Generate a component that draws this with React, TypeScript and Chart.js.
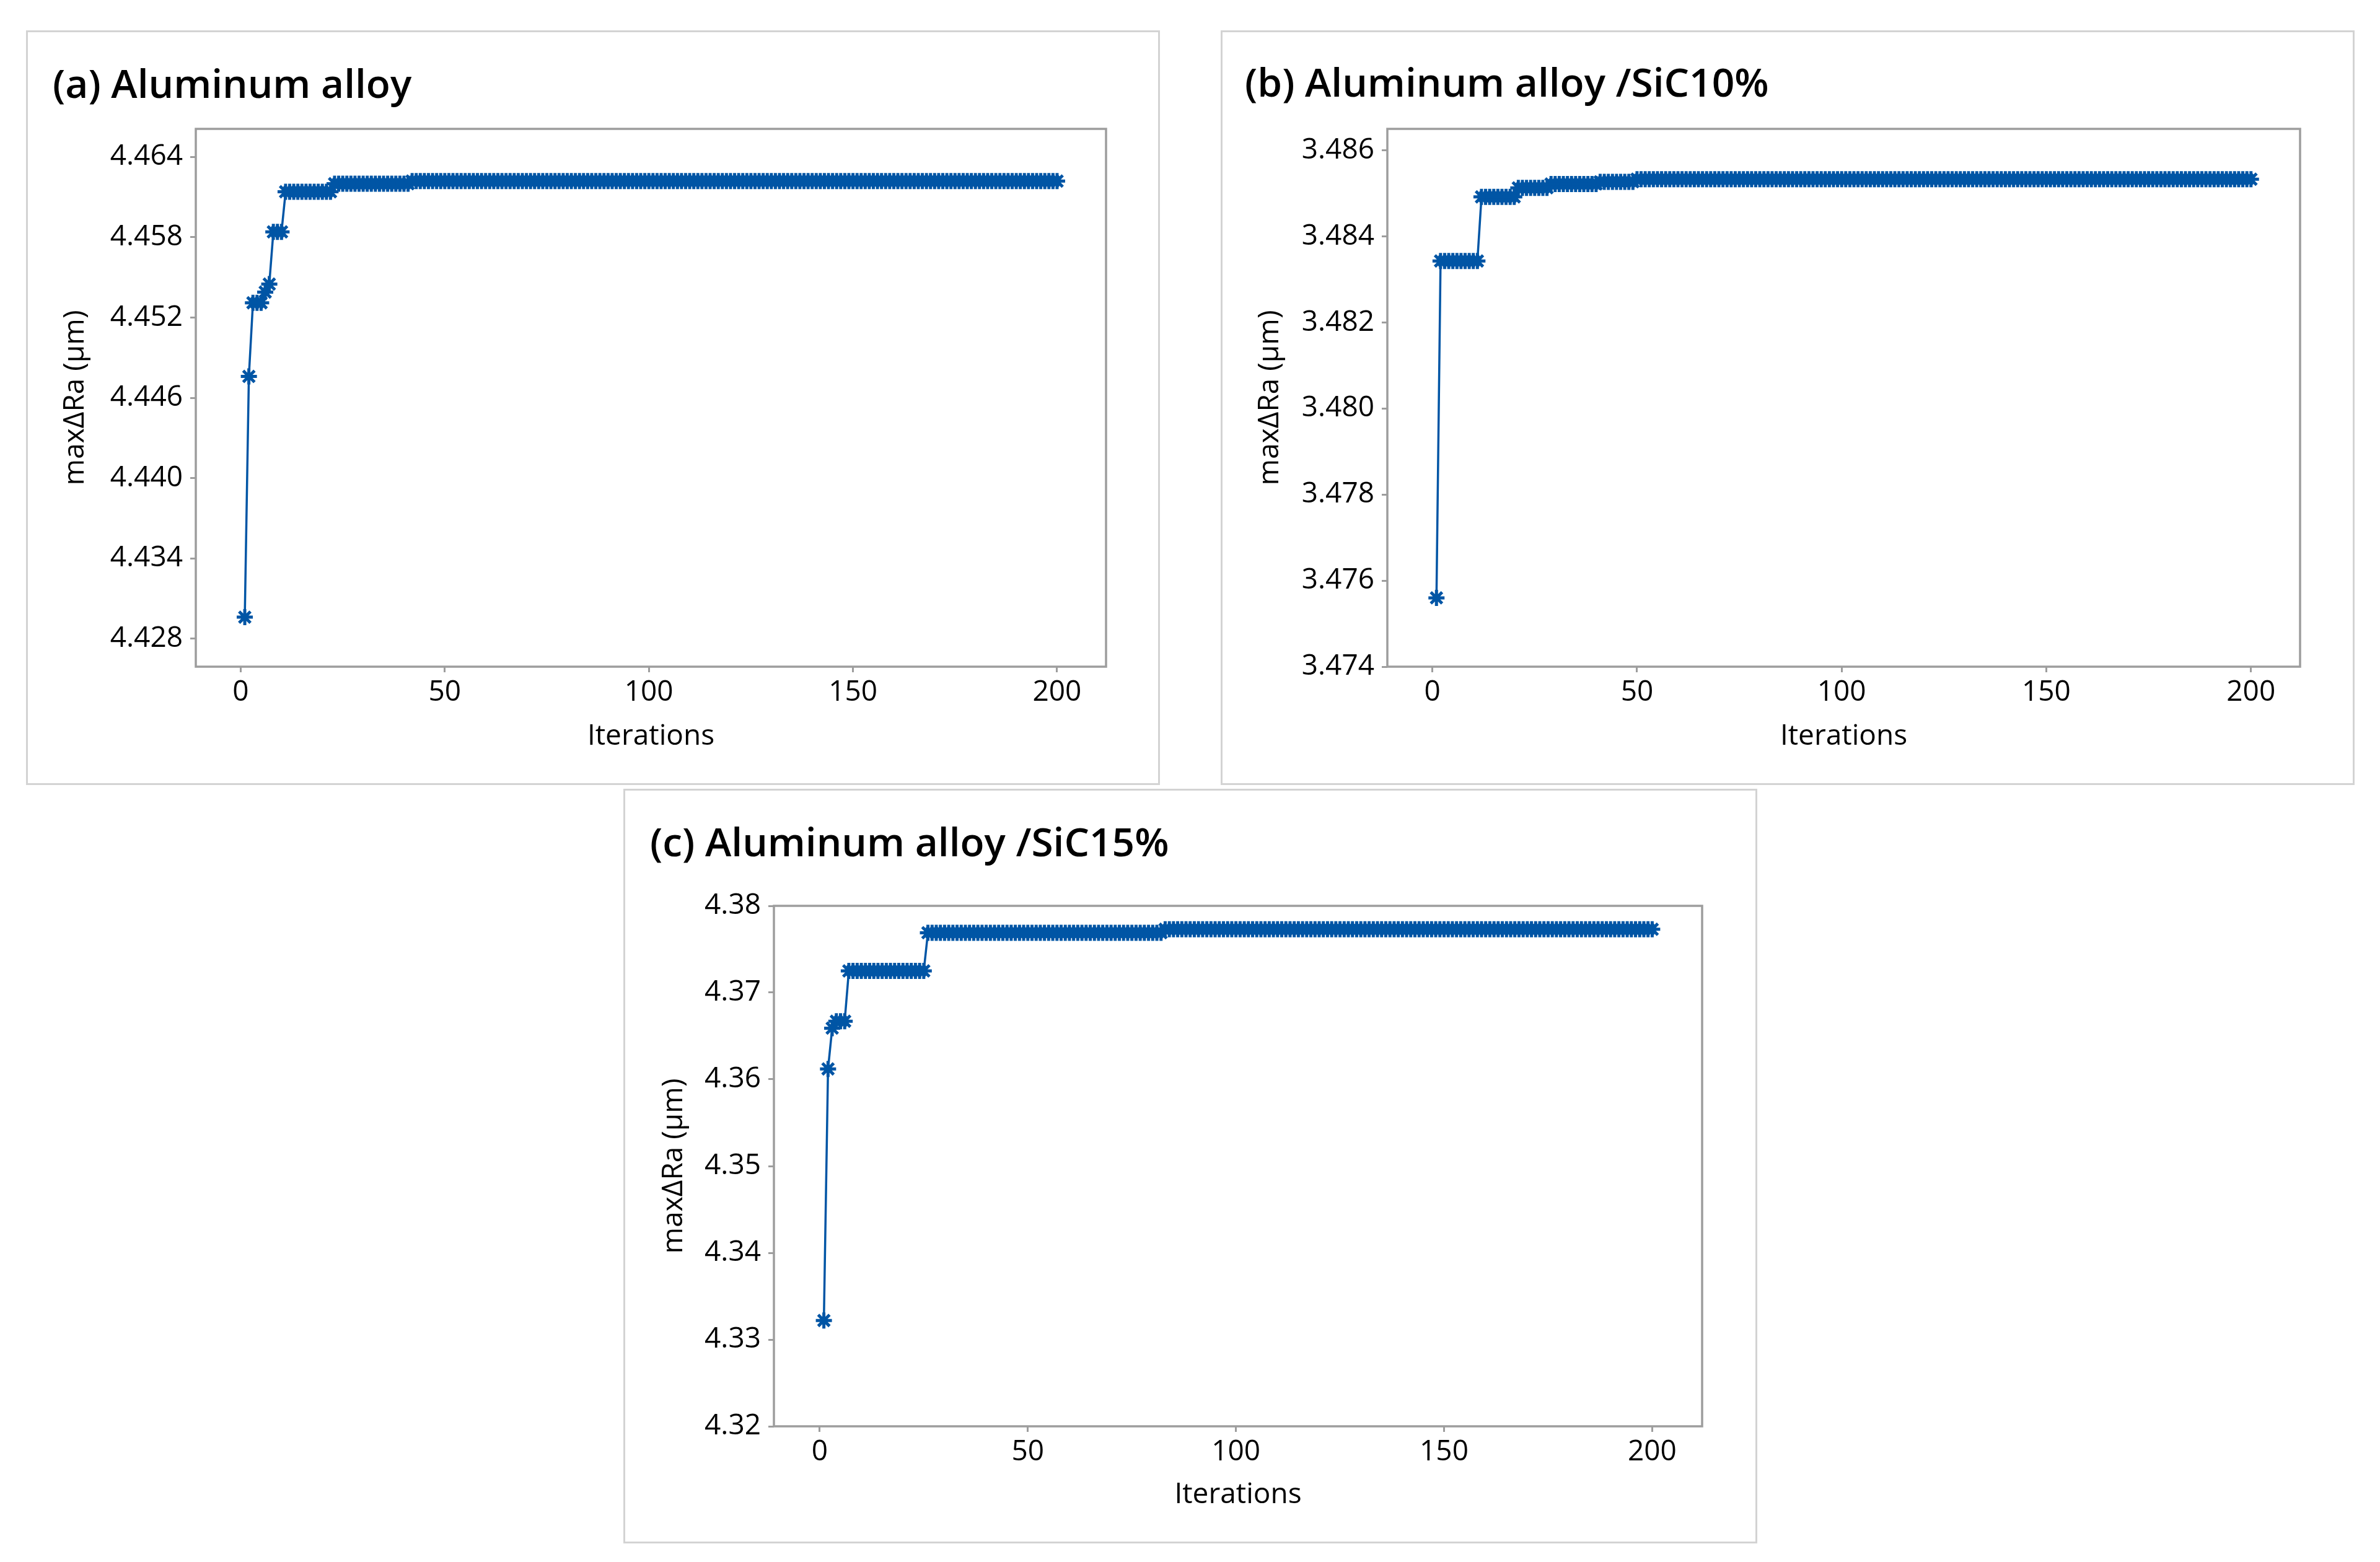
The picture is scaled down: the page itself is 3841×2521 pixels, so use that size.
import React, { useEffect, useRef } from "react";
import { Chart, registerables } from "chart.js";

Chart.register(...registerables);

// ---------------- DATA ----------------
const iterations = [
  1, 2, 3, 4, 5, 6, 7, 8, 9, 10,
  11, 12, 13, 14, 15, 16, 17, 18, 19, 20,
  21, 22, 23, 24, 25, 26, 27, 28, 29, 30,
  31, 32, 33, 34, 35, 36, 37, 38, 39, 40,
  41, 42, 43, 44, 45, 46, 47, 48, 49, 50,
  51, 52, 53, 54, 55, 56, 57, 58, 59, 60,
  61, 62, 63, 64, 65, 66, 67, 68, 69, 70,
  71, 72, 73, 74, 75, 76, 77, 78, 79, 80,
  81, 82, 83, 84, 85, 86, 87, 88, 89, 90,
  91, 92, 93, 94, 95, 96, 97, 98, 99, 100,
  101, 102, 103, 104, 105, 106, 107, 108, 109, 110,
  111, 112, 113, 114, 115, 116, 117, 118, 119, 120,
  121, 122, 123, 124, 125, 126, 127, 128, 129, 130,
  131, 132, 133, 134, 135, 136, 137, 138, 139, 140,
  141, 142, 143, 144, 145, 146, 147, 148, 149, 150,
  151, 152, 153, 154, 155, 156, 157, 158, 159, 160,
  161, 162, 163, 164, 165, 166, 167, 168, 169, 170,
  171, 172, 173, 174, 175, 176, 177, 178, 179, 180,
  181, 182, 183, 184, 185, 186, 187, 188, 189, 190,
  191, 192, 193, 194, 195, 196, 197, 198, 199, 200,
];

const seriesA = [
  4.4296, 4.4476, 4.4531, 4.4531, 4.4531, 4.4539, 4.4545, 4.4584, 4.4584, 4.4584,
  4.4614, 4.4614, 4.4614, 4.4614, 4.4614, 4.4614, 4.4614, 4.4614, 4.4614, 4.4614,
  4.4614, 4.4614, 4.4620, 4.4620, 4.4620, 4.4620, 4.4620, 4.4620, 4.4620, 4.4620,
  4.4620, 4.4620, 4.4620, 4.4620, 4.4620, 4.4620, 4.4620, 4.4620, 4.4620, 4.4620,
  4.4620, 4.4622, 4.4622, 4.4622, 4.4622, 4.4622, 4.4622, 4.4622, 4.4622, 4.4622,
  4.4622, 4.4622, 4.4622, 4.4622, 4.4622, 4.4622, 4.4622, 4.4622, 4.4622, 4.4622,
  4.4622, 4.4622, 4.4622, 4.4622, 4.4622, 4.4622, 4.4622, 4.4622, 4.4622, 4.4622,
  4.4622, 4.4622, 4.4622, 4.4622, 4.4622, 4.4622, 4.4622, 4.4622, 4.4622, 4.4622,
  4.4622, 4.4622, 4.4622, 4.4622, 4.4622, 4.4622, 4.4622, 4.4622, 4.4622, 4.4622,
  4.4622, 4.4622, 4.4622, 4.4622, 4.4622, 4.4622, 4.4622, 4.4622, 4.4622, 4.4622,
  4.4622, 4.4622, 4.4622, 4.4622, 4.4622, 4.4622, 4.4622, 4.4622, 4.4622, 4.4622,
  4.4622, 4.4622, 4.4622, 4.4622, 4.4622, 4.4622, 4.4622, 4.4622, 4.4622, 4.4622,
  4.4622, 4.4622, 4.4622, 4.4622, 4.4622, 4.4622, 4.4622, 4.4622, 4.4622, 4.4622,
  4.4622, 4.4622, 4.4622, 4.4622, 4.4622, 4.4622, 4.4622, 4.4622, 4.4622, 4.4622,
  4.4622, 4.4622, 4.4622, 4.4622, 4.4622, 4.4622, 4.4622, 4.4622, 4.4622, 4.4622,
  4.4622, 4.4622, 4.4622, 4.4622, 4.4622, 4.4622, 4.4622, 4.4622, 4.4622, 4.4622,
  4.4622, 4.4622, 4.4622, 4.4622, 4.4622, 4.4622, 4.4622, 4.4622, 4.4622, 4.4622,
  4.4622, 4.4622, 4.4622, 4.4622, 4.4622, 4.4622, 4.4622, 4.4622, 4.4622, 4.4622,
  4.4622, 4.4622, 4.4622, 4.4622, 4.4622, 4.4622, 4.4622, 4.4622, 4.4622, 4.4622,
  4.4622, 4.4622, 4.4622, 4.4622, 4.4622, 4.4622, 4.4622, 4.4622, 4.4622, 4.4622,
];

const seriesB = [
  3.4756, 3.48343, 3.48343, 3.48343, 3.48343, 3.48343, 3.48343, 3.48343, 3.48343, 3.48343,
  3.48343, 3.48492, 3.48492, 3.48492, 3.48492, 3.48492, 3.48492, 3.48492, 3.48492, 3.48492,
  3.48513, 3.48513, 3.48513, 3.48513, 3.48513, 3.48513, 3.48513, 3.48513, 3.48522, 3.48522,
  3.48522, 3.48522, 3.48522, 3.48522, 3.48522, 3.48522, 3.48522, 3.48522, 3.48522, 3.48522,
  3.48527, 3.48527, 3.48527, 3.48527, 3.48527, 3.48527, 3.48527, 3.48527, 3.48527, 3.48533,
  3.48533, 3.48533, 3.48533, 3.48533, 3.48533, 3.48533, 3.48533, 3.48533, 3.48533, 3.48533,
  3.48533, 3.48533, 3.48533, 3.48533, 3.48533, 3.48533, 3.48533, 3.48533, 3.48533, 3.48533,
  3.48533, 3.48533, 3.48533, 3.48533, 3.48533, 3.48533, 3.48533, 3.48533, 3.48533, 3.48533,
  3.48533, 3.48533, 3.48533, 3.48533, 3.48533, 3.48533, 3.48533, 3.48533, 3.48533, 3.48533,
  3.48533, 3.48533, 3.48533, 3.48533, 3.48533, 3.48533, 3.48533, 3.48533, 3.48533, 3.48533,
  3.48533, 3.48533, 3.48533, 3.48533, 3.48533, 3.48533, 3.48533, 3.48533, 3.48533, 3.48533,
  3.48533, 3.48533, 3.48533, 3.48533, 3.48533, 3.48533, 3.48533, 3.48533, 3.48533, 3.48533,
  3.48533, 3.48533, 3.48533, 3.48533, 3.48533, 3.48533, 3.48533, 3.48533, 3.48533, 3.48533,
  3.48533, 3.48533, 3.48533, 3.48533, 3.48533, 3.48533, 3.48533, 3.48533, 3.48533, 3.48533,
  3.48533, 3.48533, 3.48533, 3.48533, 3.48533, 3.48533, 3.48533, 3.48533, 3.48533, 3.48533,
  3.48533, 3.48533, 3.48533, 3.48533, 3.48533, 3.48533, 3.48533, 3.48533, 3.48533, 3.48533,
  3.48533, 3.48533, 3.48533, 3.48533, 3.48533, 3.48533, 3.48533, 3.48533, 3.48533, 3.48533,
  3.48533, 3.48533, 3.48533, 3.48533, 3.48533, 3.48533, 3.48533, 3.48533, 3.48533, 3.48533,
  3.48533, 3.48533, 3.48533, 3.48533, 3.48533, 3.48533, 3.48533, 3.48533, 3.48533, 3.48533,
  3.48533, 3.48533, 3.48533, 3.48533, 3.48533, 3.48533, 3.48533, 3.48533, 3.48533, 3.48533,
];

const seriesC = [
  4.3322, 4.3612, 4.3659, 4.3667, 4.3667, 4.3667, 4.3725, 4.3725, 4.3725, 4.3725,
  4.3725, 4.3725, 4.3725, 4.3725, 4.3725, 4.3725, 4.3725, 4.3725, 4.3725, 4.3725,
  4.3725, 4.3725, 4.3725, 4.3725, 4.3725, 4.3769, 4.3769, 4.3769, 4.3769, 4.3769,
  4.3769, 4.3769, 4.3769, 4.3769, 4.3769, 4.3769, 4.3769, 4.3769, 4.3769, 4.3769,
  4.3769, 4.3769, 4.3769, 4.3769, 4.3769, 4.3769, 4.3769, 4.3769, 4.3769, 4.3769,
  4.3769, 4.3769, 4.3769, 4.3769, 4.3769, 4.3769, 4.3769, 4.3769, 4.3769, 4.3769,
  4.3769, 4.3769, 4.3769, 4.3769, 4.3769, 4.3769, 4.3769, 4.3769, 4.3769, 4.3769,
  4.3769, 4.3769, 4.3769, 4.3769, 4.3769, 4.3769, 4.3769, 4.3769, 4.3769, 4.3769,
  4.3769, 4.3769, 4.3773, 4.3773, 4.3773, 4.3773, 4.3773, 4.3773, 4.3773, 4.3773,
  4.3773, 4.3773, 4.3773, 4.3773, 4.3773, 4.3773, 4.3773, 4.3773, 4.3773, 4.3773,
  4.3773, 4.3773, 4.3773, 4.3773, 4.3773, 4.3773, 4.3773, 4.3773, 4.3773, 4.3773,
  4.3773, 4.3773, 4.3773, 4.3773, 4.3773, 4.3773, 4.3773, 4.3773, 4.3773, 4.3773,
  4.3773, 4.3773, 4.3773, 4.3773, 4.3773, 4.3773, 4.3773, 4.3773, 4.3773, 4.3773,
  4.3773, 4.3773, 4.3773, 4.3773, 4.3773, 4.3773, 4.3773, 4.3773, 4.3773, 4.3773,
  4.3773, 4.3773, 4.3773, 4.3773, 4.3773, 4.3773, 4.3773, 4.3773, 4.3773, 4.3773,
  4.3773, 4.3773, 4.3773, 4.3773, 4.3773, 4.3773, 4.3773, 4.3773, 4.3773, 4.3773,
  4.3773, 4.3773, 4.3773, 4.3773, 4.3773, 4.3773, 4.3773, 4.3773, 4.3773, 4.3773,
  4.3773, 4.3773, 4.3773, 4.3773, 4.3773, 4.3773, 4.3773, 4.3773, 4.3773, 4.3773,
  4.3773, 4.3773, 4.3773, 4.3773, 4.3773, 4.3773, 4.3773, 4.3773, 4.3773, 4.3773,
  4.3773, 4.3773, 4.3773, 4.3773, 4.3773, 4.3773, 4.3773, 4.3773, 4.3773, 4.3773,
];

const xTicks = [0, 50, 100, 150, 200];
const xTickLabels = ["0", "50", "100", "150", "200"];

const yTicksA = [4.428, 4.434, 4.44, 4.446, 4.452, 4.458, 4.464];
const yTickLabelsA = ["4.428", "4.434", "4.440", "4.446", "4.452", "4.458", "4.464"];
const yTicksB = [3.474, 3.476, 3.478, 3.48, 3.482, 3.484, 3.486];
const yTickLabelsB = ["3.474", "3.476", "3.478", "3.480", "3.482", "3.484", "3.486"];
const yTicksC = [4.32, 4.33, 4.34, 4.35, 4.36, 4.37, 4.38];
const yTickLabelsC = ["4.32", "4.33", "4.34", "4.35", "4.36", "4.37", "4.38"];

const titles = [
  "(a) Aluminum alloy",
  "(b) Aluminum alloy /SiC10%",
  "(c) Aluminum alloy /SiC15%",
];
const xAxisTitle = "Iterations";
const yAxisTitle = "maxΔRa (μm)";

// ---------------- STYLE / LAYOUT ----------------
const FONT = "'Open Sans', 'Noto Sans', sans-serif";
const LINE_COLOR = "#0055A5";
const FRAME_COLOR = "#9d9d9d";
const PANEL_W = 1830;
const PANEL_H = 1218;
const PANEL_BORDER = 3;

const panelTitlePlugin = {
  id: "panelTitle",
  afterDraw(chart: any, _args: any, opts: any) {
    const ctx = chart.ctx;
    ctx.save();
    ctx.font = `600 ${opts.size}px ${FONT}`;
    ctx.fillStyle = "#000";
    ctx.textAlign = "left";
    ctx.textBaseline = "alphabetic";
    ctx.fillText(opts.text, opts.x, opts.y);
    ctx.restore();
  },
};

const framePlugin = {
  id: "plotFrame",
  beforeDatasetsDraw(chart: any) {
    const { ctx, chartArea } = chart;
    ctx.save();
    ctx.strokeStyle = FRAME_COLOR;
    ctx.lineWidth = 3.5;
    ctx.strokeRect(
      chartArea.left,
      chartArea.top,
      chartArea.right - chartArea.left,
      chartArea.bottom - chartArea.top
    );
    ctx.restore();
  },
};

type PanelProps = {
  left: number;
  top: number;
  title: string;
  titleX: number;
  titleY: number;
  values: number[];
  yMin: number;
  yMax: number;
  yTicks: number[];
  yTickLabels: string[];
  padTop: number;
  padRight: number;
  yWidth: number;
  xHeight: number;
  yTitlePad: number;
};

function Panel(p: PanelProps) {
  const ref = useRef<HTMLCanvasElement | null>(null);
  const innerW = PANEL_W - 2 * PANEL_BORDER;
  const innerH = PANEL_H - 2 * PANEL_BORDER;

  useEffect(() => {
    if (!ref.current) return;
    const tickFont = { family: FONT, size: 46 };
    const chart = new Chart(ref.current, {
      type: "line",
      data: {
        datasets: [
          {
            data: iterations.map((x, i) => ({ x, y: p.values[i] })),
            borderColor: LINE_COLOR,
            backgroundColor: LINE_COLOR,
            borderWidth: 3.5,
            pointStyle: "star",
            pointRadius: 13,
            pointBorderWidth: 5,
            pointBorderColor: LINE_COLOR,
            pointBackgroundColor: LINE_COLOR,
            tension: 0,
            fill: false,
          },
        ],
      },
      options: {
        animation: false,
        responsive: false,
        devicePixelRatio: 1,
        events: [],
        layout: {
          padding: { left: 0, top: p.padTop, right: p.padRight, bottom: 0 },
        },
        plugins: {
          legend: { display: false },
          tooltip: { enabled: false },
          title: { display: false },
          panelTitle: { text: p.title, x: p.titleX, y: p.titleY, size: 64 },
        } as any,
        scales: {
          x: {
            type: "linear",
            min: -11,
            max: 212,
            afterBuildTicks: (axis: any) => {
              axis.ticks = xTicks.map((v) => ({ value: v }));
            },
            afterFit: (axis: any) => {
              axis.height = p.xHeight;
            },
            grid: {
              display: true,
              drawOnChartArea: false,
              drawTicks: true,
              tickLength: 9,
              tickWidth: 3,
              tickColor: FRAME_COLOR,
            },
            border: { display: false },
            ticks: {
              font: tickFont,
              color: "#000",
              padding: 5,
              maxRotation: 0,
              autoSkip: false,
              callback: (_v: any, i: number) => xTickLabels[i],
            },
            title: {
              display: true,
              text: xAxisTitle,
              font: tickFont,
              color: "#000",
              padding: { top: 0, bottom: 48 },
            },
          },
          y: {
            type: "linear",
            min: p.yMin,
            max: p.yMax,
            afterBuildTicks: (axis: any) => {
              axis.ticks = p.yTicks.map((v) => ({ value: v }));
            },
            afterFit: (axis: any) => {
              axis.width = p.yWidth;
            },
            grid: {
              display: true,
              drawOnChartArea: false,
              drawTicks: true,
              tickLength: 9,
              tickWidth: 3,
              tickColor: FRAME_COLOR,
            },
            border: { display: false },
            ticks: {
              font: tickFont,
              color: "#000",
              padding: 12,
              autoSkip: false,
              callback: (_v: any, i: number) => p.yTickLabels[i],
            },
            title: {
              display: true,
              text: yAxisTitle,
              font: tickFont,
              color: "#000",
              padding: { top: p.yTitlePad, bottom: 0 },
            },
          },
        },
      } as any,
      plugins: [panelTitlePlugin, framePlugin] as any,
    });
    return () => chart.destroy();
  }, []);

  return (
    <div
      style={{
        position: "absolute",
        left: p.left,
        top: p.top,
        width: PANEL_W,
        height: PANEL_H,
        border: `${PANEL_BORDER}px solid #d3d3d3`,
        boxSizing: "border-box",
        background: "#fff",
      }}
    >
      <canvas
        ref={ref}
        width={innerW}
        height={innerH}
        style={{ display: "block", width: innerW, height: innerH }}
      />
    </div>
  );
}

export default function App() {
  return (
    <div
      style={{
        position: "absolute",
        left: 0,
        top: 0,
        width: 3841,
        height: 2521,
        background: "#fff",
        overflow: "hidden",
      }}
    >
      <Panel
        left={42}
        top={49}
        title={titles[0]}
        titleX={40}
        titleY={106}
        values={seriesA}
        yMin={4.4259}
        yMax={4.4661}
        yTicks={yTicksA}
        yTickLabels={yTickLabelsA}
        padTop={156}
        padRight={84}
        yWidth={271}
        xHeight={188}
        yTitlePad={49}
      />
      <Panel
        left={1970}
        top={49}
        title={titles[1]}
        titleX={36}
        titleY={104}
        values={seriesB}
        yMin={3.474}
        yMax={3.4865}
        yTicks={yTicksB}
        yTickLabels={yTickLabelsB}
        padTop={156}
        padRight={85}
        yWidth={266}
        xHeight={188}
        yTitlePad={49}
      />
      <Panel
        left={1006}
        top={1273}
        title={titles[2]}
        titleX={40}
        titleY={106}
        values={seriesC}
        yMin={4.32}
        yMax={4.38}
        yTicks={yTicksC}
        yTickLabels={yTickLabelsC}
        padTop={186}
        padRight={86}
        yWidth={240}
        xHeight={186}
        yTitlePad={51}
      />
    </div>
  );
}
